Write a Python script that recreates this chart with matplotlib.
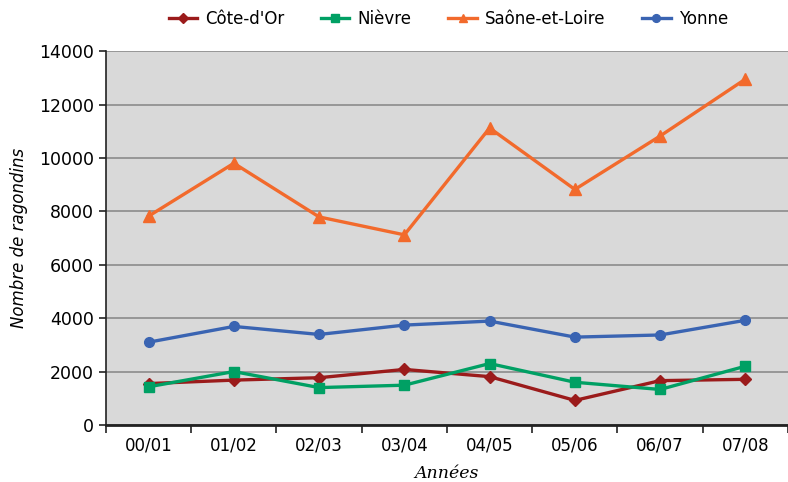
import numpy as np
import matplotlib.pyplot as plt

# données
annees = ["00/01", "01/02", "02/03", "03/04", "04/05", "05/06", "06/07", "07/08"]
cote_dor = [1550, 1680, 1770, 2080, 1810, 920, 1660, 1710]
nievre = [1430, 2000, 1400, 1490, 2300, 1600, 1330, 2200]
saone_et_loire = [7820, 9800, 7790, 7120, 11120, 8820, 10820, 12950]
yonne = [3100, 3690, 3390, 3740, 3890, 3290, 3370, 3920]

fig = plt.figure(figsize=(7.88, 4.82), dpi=100)
ax = fig.add_axes([0.1345, 0.1183, 0.8655, 0.7757])
ax.set_facecolor("#d9d9d9")

x = np.arange(len(annees))
ax.plot(x, cote_dor, color="#9b1b1b", lw=2.4, marker="D", ms=6, label="Côte-d'Or")
ax.plot(x, nievre, color="#00a064", lw=2.4, marker="s", ms=7, label="Nièvre")
ax.plot(x, saone_et_loire, color="#f26a2c", lw=2.4, marker="^", ms=8, label="Saône-et-Loire")
ax.plot(x, yonne, color="#3a64b2", lw=2.4, marker="o", ms=7, label="Yonne")

# axes
ax.set_xlim(-0.5, len(annees) - 0.5)
ax.set_ylim(0, 14000)
ax.set_yticks(np.arange(0, 14001, 2000))
ax.yaxis.grid(True, color="#8c8c8c", lw=1.2)
ax.set_axisbelow(True)

ax.set_xticks(x)
ax.set_xticklabels(annees, fontsize=12)
ax.set_xticks(np.arange(-0.5, len(annees), 1), minor=True)
ax.tick_params(axis="x", which="major", length=0, pad=8)
ax.tick_params(axis="x", which="minor", length=6, width=1.2, color="#222222")
ax.tick_params(axis="y", length=5, width=1.2, color="#222222", labelsize=12.5)

ax.spines["top"].set_color("none")
ax.spines["right"].set_color("none")
ax.spines["left"].set_color("#222222")
ax.spines["bottom"].set_color("#222222")
ax.spines["left"].set_linewidth(1.2)
ax.spines["bottom"].set_linewidth(2)

ax.set_xlabel("Années", fontsize=12.5, style="italic", family="DejaVu Serif", labelpad=8)
ax.set_ylabel("Nombre de ragondins", fontsize=12, style="italic", labelpad=8)

fig.legend(loc="center", bbox_to_anchor=(0.569, 0.96), ncol=4, frameon=False,
           fontsize=12, handlelength=1.7, columnspacing=2.2, handletextpad=0.5,
           markerscale=0.8)

fig.savefig("out.png", dpi=100)
